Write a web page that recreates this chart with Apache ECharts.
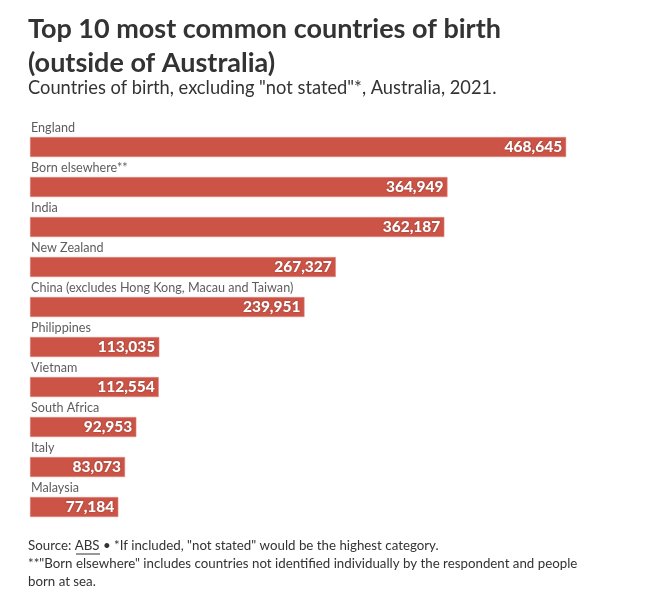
<!DOCTYPE html>
<html><head><meta charset="utf-8">
<script src="https://cdn.jsdelivr.net/npm/echarts@6/dist/echarts.min.js"></script>
<style>html,body{margin:0;padding:0;background:#fff}#c{width:660px;height:594px}</style>
</head><body><div id="c"></div>
<script>
const categories = ["England","Born elsewhere**","India","New Zealand","China (excludes Hong Kong, Macau and Taiwan)","Philippines","Vietnam","South Africa","Italy","Malaysia"];
const values = [468645,364949,362187,267327,239951,113035,112554,92953,83073,77184];
const FONT = "Lato";
const chart = echarts.init(document.getElementById('c'));
chart.setOption({
  backgroundColor:'#fff',
  animation:false,
  grid:{left:30, top:127, height:400, width:572},
  xAxis:{type:'value', min:0, max:500000, show:false},
  yAxis:{type:'category', data:categories, inverse:true,
    axisLine:{show:false}, axisTick:{show:false}, splitLine:{show:false}, axisLabel:{show:false}},
  series:[{type:'bar', data:values, barWidth:20,
    itemStyle:{color:'#cc5447', borderColor:'#e08a80', borderWidth:0.5},
    label:{show:true, position:'insideRight', distance:4, color:'#fff', fontWeight:900,
      fontSize:15.5, fontFamily:FONT, textShadowColor:'rgba(0,0,0,0.35)', textShadowBlur:2,
      formatter:p=>p.value.toLocaleString('en-US')}},
    {type:'scatter', symbolSize:0, silent:true,
     data:categories.map(c=>[0,c]),
     label:{show:true, position:'right', distance:1, offset:[0,-19], color:'#333', fontSize:12.6, fontFamily:FONT,
       formatter:p=>p.value[1]}}],
  graphic:[
    {type:'text', left:28, top:12, style:{text:'Top 10 most common countries of birth\n(outside of Australia)', fontSize:27, lineHeight:34, fontWeight:'bold', fill:'#333', fontFamily:FONT}},
    {type:'text', left:28, top:79, style:{text:'Countries of birth, excluding "not stated"*, Australia, 2021.', fontSize:18.3, fill:'#333', fontFamily:FONT}},
    {type:'text', left:28, top:537, style:{text:'Source: ABS \u2022 *If included, "not stated" would be the highest category.\n**"Born elsewhere" includes countries not identified individually by the respondent and people\nborn at sea.', fontSize:13.3, lineHeight:18, fill:'#333', fontFamily:FONT}},
    {type:'line', shape:{x1:76, y1:554, x2:100, y2:554}, style:{stroke:'#333', lineWidth:1}}
  ]
});
</script></body></html>
